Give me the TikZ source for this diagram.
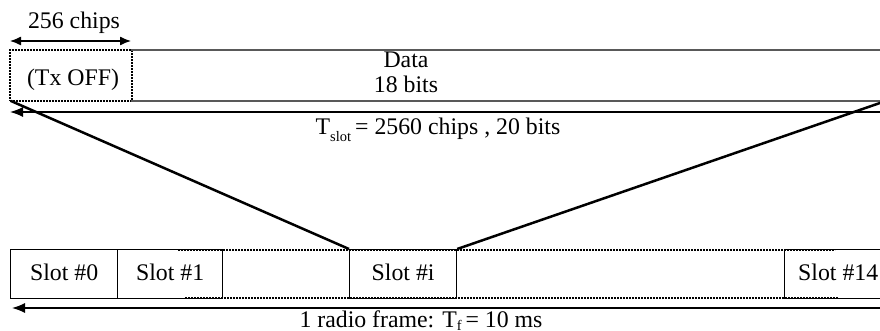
\documentclass[tikz,border=0pt]{standalone}
\usepackage{fontspec}
\setmainfont{Liberation Serif}
\usetikzlibrary{arrows.meta}

\newcommand{\lowsub}[1]{\raisebox{-0.28em}{\fontsize{14.5}{14.5}\selectfont #1}}

\begin{document}
\begin{tikzpicture}[x=1pt,y=-1pt,
    every node/.style={font=\fontsize{23.8}{27}\selectfont, inner sep=0pt},
    label/.style={anchor=base},
    slotbox/.style={draw, line width=1.2pt, minimum width=107pt, minimum height=49pt, anchor=north west},
    dotline/.style={line width=1.5pt, dash pattern=on 2pt off 1pt},
    dataline/.style={draw=black!65, line width=2pt},
    span/.style={line width=1.3pt, {Latex[length=13pt,width=10pt]}-{Latex[length=13pt,width=10pt]}},
    chipspan/.style={line width=1.3pt, {Latex[length=11pt,width=9pt]}-{Latex[length=11pt,width=9pt]}},
    fan/.style={line width=2.5pt}]
  \useasboundingbox (0,0) rectangle (880,331);

  % top slot structure: guard part and data part
  \node[draw, dotline, minimum width=122pt, minimum height=51pt, anchor=north west] (txoff) at (9,49.5) {};
  \node[label] (txofftext) at (73,86) {(Tx OFF)};
  \coordinate (dataTL) at (131,50);
  \coordinate (dataTR) at (895,50);
  \coordinate (dataBL) at (131,101);
  \coordinate (dataBR) at (895,101);
  \draw[dataline] (dataTL) -- (dataTR);
  \draw[dataline] (dataBL) -- (dataBR);
  \node[label] (data) at (406,68) {Data};
  \node[label] (databits) at (406,93) {18 bits};

  % 256 chips span
  \coordinate (chipL) at (10,41);
  \coordinate (chipR) at (131,41);
  \draw[chipspan] (chipL) -- (chipR);
  \node[label] (chiptext) at (74,29) {256 chips};

  % slot length span
  \coordinate (slotL) at (10,112);
  \coordinate (slotR) at (893,112);
  \draw[span] (slotL) -- (slotR);
  \node[label] (slottext) at (438,135) {T\lowsub{slot}\,= 2560 chips , 20 bits};

  % radio frame slots
  \node[slotbox] (s0) at (10,249) {};
  \node[label] (s0text) at (s0.center |- 0,280) {Slot \#0};
  \node[slotbox, minimum width=105pt] (s1) at (117,249) {};
  \node[label] (s1text) at (s1.center |- 0,280) {Slot \#1};
  \node[slotbox] (si) at (349,249) {};
  \node[label] (sitext) at (si.center |- 0,280) {Slot \#i};
  \node[slotbox, minimum width=110pt] (s14) at (784,249) {};
  \node[anchor=base west] (s14text) at (798,280) {Slot \#14};
  \coordinate (dotTL) at (178,250);
  \coordinate (dotTR) at (835,250);
  \coordinate (dotBL) at (185,298);
  \coordinate (dotBR) at (838,298);
  \draw[dotline] (dotTL) -- (dotTR);
  \draw[dotline] (dotBL) -- (dotBR);

  % expansion lines from slot #i to the slot structure
  \coordinate (fanL) at (11,101);
  \coordinate (fanR) at (895,97.8);
  \draw[fan] (fanL) -- (si.north west);
  \draw[fan] (fanR) -- (si.north east);

  % frame length span
  \coordinate (frameL) at (12,308);
  \coordinate (frameR) at (893,308);
  \draw[span] (frameL) -- (frameR);
  \node[label] (frametext) at (421,327) {1 radio frame: T\raisebox{-0.15em}{\fontsize{14.5}{14.5}\selectfont f}\,= 10 ms};
\end{tikzpicture}
\end{document}
